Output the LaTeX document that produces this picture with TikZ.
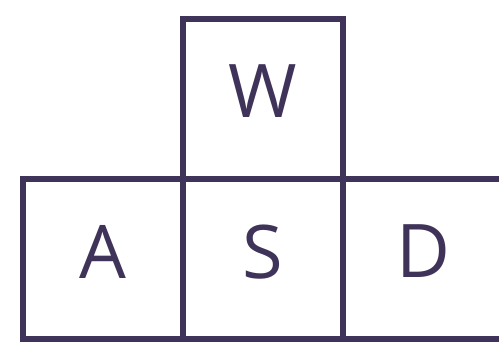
\documentclass[tikz,border=0pt]{standalone}
\usepackage{fontspec}
\setmainfont{Open Sans}
\definecolor{keyc}{HTML}{3F3359}
\begin{document}
\begin{tikzpicture}[x=1pt,y=1pt,
  keybox/.style={draw=keyc, line width=5.5pt, minimum width=160pt, minimum height=160pt,
    inner sep=0pt, text=keyc, font=\fontsize{74}{74}\selectfont, text depth=15pt}]
\useasboundingbox (0,0) rectangle (499,341);
\clip (0,0) rectangle (499,341);
\node[keybox] (w) at (263,242) {W};
\node[keybox] (a) at (102.9,82) {A};
\node[keybox] (s) at (263,82) {S};
\node[keybox] (d) at (423,82) {D};
\end{tikzpicture}
\end{document}
